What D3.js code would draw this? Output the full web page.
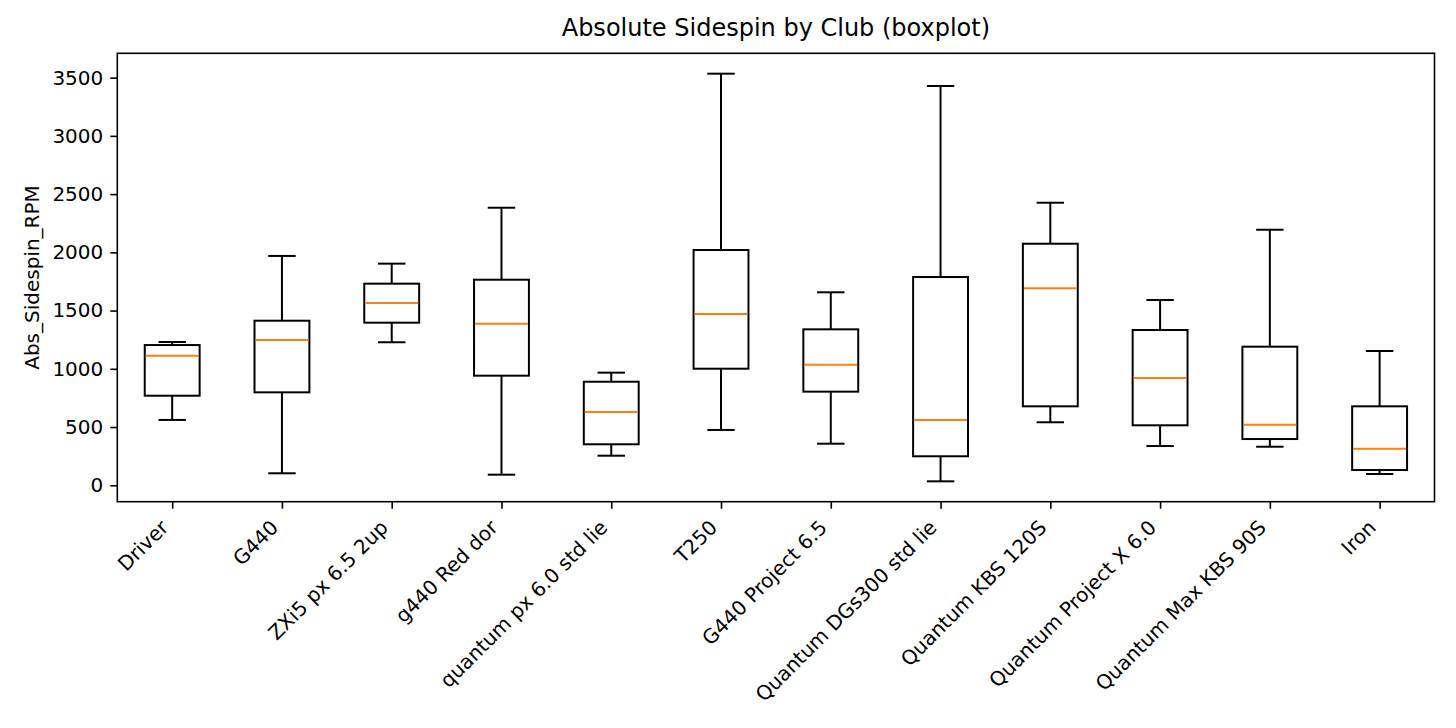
<!DOCTYPE html>
<html>
<head>
<meta charset="utf-8">
<script src="https://cdn.jsdelivr.net/npm/d3@7"></script>
<style>
  body { margin: 0; background: #fff; }
  svg { display: block; font-family: "DejaVu Sans", sans-serif; }
</style>
</head>
<body>
<script>
// data
var clubs = ["Driver", "G440", "ZXi5 px 6.5 2up", "g440 Red dor", "quantum px 6.0 std lie",
    "T250", "G440 Project 6.5", "Quantum DGs300 std lie", "Quantum KBS 120S",
    "Quantum Project X 6.0", "Quantum Max KBS 90S", "Iron"];
var whiskerLow  = [561, 103, 1228, 91, 254, 475, 357, 34, 541, 337, 331, 97];
var q1          = [769, 798, 1396, 941, 352, 1001, 804, 249, 678, 515, 397, 131];
var median      = [1112, 1247, 1565, 1387, 629, 1471, 1035, 561, 1691, 921, 520, 314];
var q3          = [1204, 1413, 1731, 1765, 889, 2020, 1339, 1788, 2074, 1333, 1190, 678];
var whiskerHigh = [1230, 1969, 1903, 2383, 967, 3534, 1657, 3428, 2426, 1591, 2194, 1153];
var yTicks = [0, 500, 1000, 1500, 2000, 2500, 3000, 3500];

// set dimensions
var width = 1456;
var height = 728;
var margin = {top: 53.3, right: 21.5, bottom: 226.3, left: 117.3};
var font = "DejaVu Sans";

var svg = d3.select("body")
    .append("svg")
    .attr("width", width)
    .attr("height", height);

var data = clubs.map(function(c, i) {
    return {club: c, lo: whiskerLow[i], q1: q1[i], med: median[i], q3: q3[i], hi: whiskerHigh[i]};
});

// scales (5% margin like matplotlib autoscale)
var xScale = d3.scalePoint()
    .domain(clubs)
    .range([margin.left, width - margin.right])
    .padding(0.5);

var yMin = d3.min(whiskerLow), yMax = d3.max(whiskerHigh);
var pad = (yMax - yMin) * 0.05;
var yScale = d3.scaleLinear()
    .domain([yMin - pad, yMax + pad])
    .range([height - margin.bottom, margin.top]);

var boxW = xScale.step() * 0.5;
var capW = boxW * 0.5;

// axes
var xAxis = d3.axisBottom(xScale).tickSize(7).tickPadding(7);
var yAxis = d3.axisLeft(yScale).tickValues(yTicks).tickFormat(d3.format("d")).tickSize(7).tickPadding(7);

var gx = svg.append("g")
    .attr("transform", `translate(0, ${height - margin.bottom})`)
    .attr("font-family", font)
    .call(xAxis);
gx.select(".domain").remove();
gx.selectAll(".tick line").attr("stroke", "#000").attr("stroke-width", 1.6);
gx.selectAll(".tick text")
    .attr("font-size", "20px")
    .attr("font-family", font)
    .attr("fill", "#000")
    .attr("text-anchor", "end")
    .attr("dy", null)
    .attr("y", null)
    .attr("transform", "translate(-3, 27) rotate(-45)");

var gy = svg.append("g")
    .attr("transform", `translate(${margin.left}, 0)`)
    .attr("font-family", font)
    .call(yAxis);
gy.select(".domain").remove();
gy.selectAll(".tick line").attr("stroke", "#000").attr("stroke-width", 1.6);
gy.selectAll(".tick text").attr("font-size", "20px").attr("font-family", font).attr("fill", "#000");

// boxes
var g = svg.append("g");
var box = g.selectAll("g.box")
    .data(data)
    .enter()
    .append("g")
    .attr("class", "box");

// whiskers
box.append("line")
    .attr("x1", d => xScale(d.club)).attr("x2", d => xScale(d.club))
    .attr("y1", d => yScale(d.lo)).attr("y2", d => yScale(d.q1))
    .attr("stroke", "#000").attr("stroke-width", 2);
box.append("line")
    .attr("x1", d => xScale(d.club)).attr("x2", d => xScale(d.club))
    .attr("y1", d => yScale(d.q3)).attr("y2", d => yScale(d.hi))
    .attr("stroke", "#000").attr("stroke-width", 2);

// caps
box.append("line")
    .attr("x1", d => xScale(d.club) - capW / 2).attr("x2", d => xScale(d.club) + capW / 2)
    .attr("y1", d => yScale(d.lo)).attr("y2", d => yScale(d.lo))
    .attr("stroke", "#000").attr("stroke-width", 2);
box.append("line")
    .attr("x1", d => xScale(d.club) - capW / 2).attr("x2", d => xScale(d.club) + capW / 2)
    .attr("y1", d => yScale(d.hi)).attr("y2", d => yScale(d.hi))
    .attr("stroke", "#000").attr("stroke-width", 2);

// box
box.append("rect")
    .attr("x", d => xScale(d.club) - boxW / 2)
    .attr("y", d => yScale(d.q3))
    .attr("width", boxW)
    .attr("height", d => yScale(d.q1) - yScale(d.q3))
    .attr("fill", "none")
    .attr("stroke", "#000")
    .attr("stroke-width", 2);

// median
box.append("line")
    .attr("x1", d => xScale(d.club) - boxW / 2 + 1).attr("x2", d => xScale(d.club) + boxW / 2 - 1)
    .attr("y1", d => yScale(d.med)).attr("y2", d => yScale(d.med))
    .attr("stroke", "#ff7f0e").attr("stroke-width", 2);

// frame
svg.append("rect")
    .attr("x", margin.left)
    .attr("y", margin.top)
    .attr("width", width - margin.left - margin.right)
    .attr("height", height - margin.top - margin.bottom)
    .attr("fill", "none")
    .attr("stroke", "#000")
    .attr("stroke-width", 1.6);

// title and y label
svg.append("text")
    .attr("x", (margin.left + width - margin.right) / 2)
    .attr("y", 36)
    .attr("text-anchor", "middle")
    .attr("font-size", "24px")
    .text("Absolute Sidespin by Club (boxplot)");

svg.append("text")
    .attr("transform", `translate(39, ${(margin.top + height - margin.bottom) / 2}) rotate(-90)`)
    .attr("text-anchor", "middle")
    .attr("font-size", "20px")
    .text("Abs_Sidespin_RPM");
</script>
</body>
</html>
